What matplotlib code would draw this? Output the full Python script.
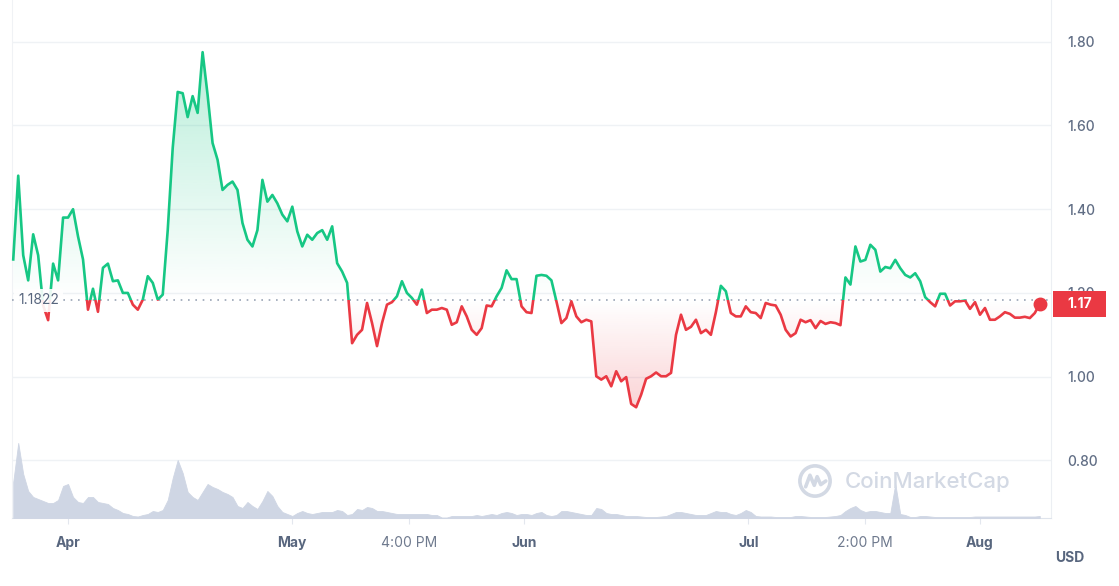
import numpy as np
import pandas as pd
import matplotlib
matplotlib.use("Agg")
import matplotlib.pyplot as plt
import matplotlib.dates as mdates
from matplotlib.patches import PathPatch, Rectangle, Circle
from matplotlib.transforms import blended_transform_factory
from matplotlib.colors import to_rgb

plt.rcParams['font.family'] = ['Inter', 'DejaVu Sans']

# --- DATA (one sample every 16 h) ---
start_time = "2023-03-24 16:00"
sample_step = "16h"

price = [
    1.28, 1.48, 1.29, 1.23, 1.34, 1.29, 1.17, 1.135, 1.27, 1.23,
    1.38, 1.38, 1.40, 1.335, 1.28, 1.16, 1.21, 1.155, 1.26, 1.27,
    1.228, 1.23, 1.20, 1.20, 1.172, 1.16, 1.184, 1.24, 1.224, 1.184,
    1.196, 1.35, 1.546, 1.68, 1.677, 1.62, 1.67, 1.63, 1.775, 1.673,
    1.558,
    1.518, 1.446, 1.458, 1.466, 1.446, 1.367, 1.327, 1.311, 1.35, 1.47,
    1.418, 1.434, 1.414, 1.387, 1.371, 1.406, 1.347, 1.311, 1.339, 1.327,
    1.343, 1.35, 1.327, 1.359, 1.271, 1.251, 1.224, 1.08, 1.10, 1.112,
    1.176, 1.128, 1.073, 1.128, 1.172, 1.178, 1.192, 1.228, 1.20, 1.188,
    1.172, 1.208,
    1.152, 1.16, 1.16, 1.164, 1.16, 1.124, 1.13, 1.168, 1.144, 1.112,
    1.10, 1.116, 1.17, 1.168, 1.192, 1.212, 1.254, 1.233, 1.233, 1.168,
    1.154, 1.152, 1.241, 1.243, 1.241, 1.23, 1.18, 1.128, 1.14, 1.18,
    1.144, 1.13, 1.136, 1.132, 1.001, 0.993, 1.001, 0.977, 1.013, 0.989,
    0.999, 0.935,
    0.927, 0.957, 0.995, 1.001, 1.01, 1.001, 1.001, 1.009, 1.10, 1.148,
    1.112, 1.119, 1.136, 1.104, 1.112, 1.10, 1.154, 1.217, 1.204, 1.152,
    1.144, 1.144, 1.168, 1.154, 1.152, 1.14, 1.176, 1.172, 1.17, 1.148,
    1.112, 1.096, 1.104, 1.136, 1.13, 1.135, 1.116, 1.133, 1.126, 1.13,
    1.128, 1.123,
    1.237, 1.22, 1.311, 1.275, 1.279, 1.315, 1.303, 1.251, 1.262, 1.259,
    1.279, 1.259, 1.243, 1.237, 1.247, 1.228, 1.19, 1.178, 1.168, 1.198,
    1.198, 1.17, 1.18, 1.18, 1.182, 1.162, 1.178, 1.148, 1.164, 1.136,
    1.136, 1.144, 1.154, 1.15, 1.141, 1.141, 1.143, 1.14, 1.152, 1.174,
]

# relative trading volume (arbitrary units)
volume = [
    36, 75, 44, 27, 21, 19, 17, 15, 15, 18,
    32, 34, 21, 16, 15, 21, 21, 16, 15, 14,
    10, 8, 5, 4, 2, 1.5, 3, 4, 7, 6,
    8, 18, 40, 58, 45, 26, 21, 18, 26, 34,
    31,
    29, 26, 24, 21, 12, 10, 16, 12, 9, 17,
    27, 22, 12, 6, 4, 2, 5, 7, 5, 4,
    5, 6, 6, 6, 8, 7, 3, 4, 9, 8,
    11, 10, 7, 7, 6, 5, 4, 4, 4, 4,
    4, 4,
    4, 3, 3, 0.5, 0.5, 2, 2, 2, 2, 2,
    3, 2, 3, 4, 3, 5, 6, 5, 3, 4,
    4, 3, 5, 6, 3, 2, 3, 7, 7, 6,
    5, 4, 3, 3, 10, 9, 5, 4, 4, 3,
    2, 2,
    2, 1.5, 1, 1, 1, 1.5, 2, 4, 6, 6,
    5, 4, 3, 3, 3, 5, 7, 6, 6, 4,
    3, 5, 8, 6, 2, 1.5, 1.5, 1.5, 1, 1,
    1, 1, 2, 2, 1.5, 1, 1, 1, 1, 1.5,
    2, 3,
    7, 10, 12, 8, 6, 7, 7, 6, 5, 5,
    34, 4, 3, 1, 1, 2, 2, 1.5, 1, 1,
    1, 1, 1, 1, 1, 1, 1.5, 1.5, 1.5, 1.5,
    1.5, 1.5, 1.5, 1.5, 1.5, 1.5, 1.5, 1.5, 1.5, 2,
]

base_price = 1.1822
base_label = "1.1822"
last_label = "1.17"

tick_times = ["2023-04-01 00:00", "2023-05-01 00:00", "2023-05-16 16:00",
              "2023-06-01 00:00", "2023-07-01 00:00", "2023-07-16 14:00",
              "2023-08-01 00:00"]
tick_labels = ["Apr", "May", "4:00 PM", "Jun", "Jul", "2:00 PM", "Aug"]
tick_is_month = [True, True, False, True, True, False, True]
y_ticks = [0.80, 1.00, 1.20, 1.40, 1.60, 1.80]

# --- STYLE ---
GREEN = "#16c784"
RED = "#ea3943"
GREY = "#58667e"
VOL = "#cfd6e4"

xs = mdates.date2num(pd.date_range(start_time, periods=len(price), freq=sample_step))
p = np.array(price)

W, H = 1119, 586
fig = plt.figure(figsize=(W / 100, H / 100), dpi=100)
ax = fig.add_axes([12 / W, 1 - 518 / H, 1039 / W, 518 / H])

x_lo = mdates.date2num(pd.Timestamp("2023-03-24 12:00"))
x_hi = mdates.date2num(pd.Timestamp("2023-08-10 12:00"))
y_lo, y_hi = 0.6625, 1.8996

# gradient fills between price and the baseline
clip_poly = ax.fill_between(xs, p, base_price, facecolor="none", edgecolor="none")
clip_patch = PathPatch(clip_poly.get_paths()[0], transform=ax.transData,
                       facecolor="none", edgecolor="none")
ax.add_patch(clip_patch)


def gradient(color, a_bottom, a_top, y0, y1):
    img = np.zeros((256, 1, 4))
    img[:, 0, :3] = to_rgb(color)
    img[:, 0, 3] = np.linspace(a_bottom, a_top, 256)
    im = ax.imshow(img, origin="lower", aspect="auto",
                   extent=[xs[0], xs[-1], y0, y1], zorder=1)
    im.set_clip_path(clip_patch)


gradient(GREEN, 0.0, 0.30, base_price, max(price))
gradient(RED, 0.22, 0.0, min(price), base_price)

# price line, green above and red below the baseline
big = 10
for color, y0 in [(GREEN, base_price), (RED, base_price - big)]:
    ln, = ax.plot(xs, p, color=color, lw=1.9, zorder=4, solid_joinstyle="round")
    ln.set_clip_path(Rectangle((xs[0] - 5, y0), xs[-1] - xs[0] + 10, big,
                               transform=ax.transData))

ax.axhline(base_price, color="#9aa4b5", lw=1.2, ls=(0, (1, 3.4)), zorder=3)
ax.plot(xs[-1], p[-1], "o", ms=9, color=RED, zorder=6, clip_on=False)

ax.set_xlim(x_lo, x_hi)
ax.set_ylim(y_lo, y_hi)

# axes styling
ax.yaxis.tick_right()
ax.set_yticks(y_ticks)
ax.set_yticklabels([f"{v:.2f}" for v in y_ticks], fontweight="medium")
ax.tick_params(axis="y", length=0, pad=11.5, labelsize=10, labelcolor="#616e85")
ax.grid(axis="y", color="#eff2f5", lw=1, zorder=0)
ax.set_axisbelow(True)

ax.set_xticks(mdates.date2num(pd.to_datetime(tick_times, format="%Y-%m-%d %H:%M")))
ax.set_xticklabels(tick_labels)
ax.tick_params(axis="x", length=4, color="#e3e7ee", pad=9, labelsize=10)
for lab, is_month in zip(ax.get_xticklabels(), tick_is_month):
    lab.set_fontweight("bold" if is_month else "normal")
    lab.set_color(GREY if is_month else "#6f7a8e")

ax.spines["top"].set_visible(False)
ax.spines["left"].set_color("#f0f2f5")
ax.spines["right"].set_color("#eceff3")
ax.spines["bottom"].set_color("#dfe4ec")

# baseline label on the left
bt = blended_transform_factory(ax.transAxes, ax.transData)
ax.annotate(base_label, xy=(0, base_price), xycoords=bt, xytext=(4.5, 0),
            textcoords="offset points", ha="left", va="center", fontsize=10,
            color=GREY, zorder=7,
            bbox=dict(boxstyle="square,pad=0.3", fc="white", ec="none", alpha=0.9))

# last price tag on the right (covers the 1.20 tick label, as in the app)
ax.add_patch(Rectangle((1.0019, p[-1] - 0.031), 0.051, 0.062, transform=bt,
                       facecolor=RED, edgecolor="none", clip_on=False, zorder=10))
ax.text(1.0019 + 0.0255, p[-1], last_label, transform=bt, ha="center", va="center",
        color="white", fontsize=10, fontweight="bold", zorder=11, clip_on=False)

# volume area
ax_v = fig.add_axes(ax.get_position(), sharex=ax)
ax_v.fill_between(xs, volume, 0, color=VOL, lw=0.6, edgecolor=VOL)
ax_v.set_ylim(0, max(volume) * 6.9)
ax_v.set_xlim(x_lo, x_hi)
ax_v.axis("off")
ax_v.patch.set_visible(False)

fig.text(1055 / W, 1 - 558 / H, "USD", fontsize=10, fontweight="bold",
         color=GREY, ha="left", va="center")

# watermark
WM = "#d3d9e4"
fig.text(845 / W, 1 - 482 / H, "CoinMarketCap", fontsize=16, fontweight="medium",
         color=WM, ha="left", va="center")
ax_logo = fig.add_axes([797 / W, 1 - 499 / H, 36 / W, 36 / H])
ax_logo.set_xlim(0, 1)
ax_logo.set_ylim(0, 1)
ax_logo.axis("off")
ax_logo.add_patch(Circle((0.5, 0.5), 0.42, fill=False, lw=2.6, ec=WM))
ax_logo.plot([0.24, 0.36, 0.48, 0.56, 0.66, 0.80],
             [0.34, 0.66, 0.38, 0.62, 0.40, 0.50], color=WM, lw=2.6,
             solid_capstyle="round", solid_joinstyle="round")

fig.savefig("out.png", dpi=100)
